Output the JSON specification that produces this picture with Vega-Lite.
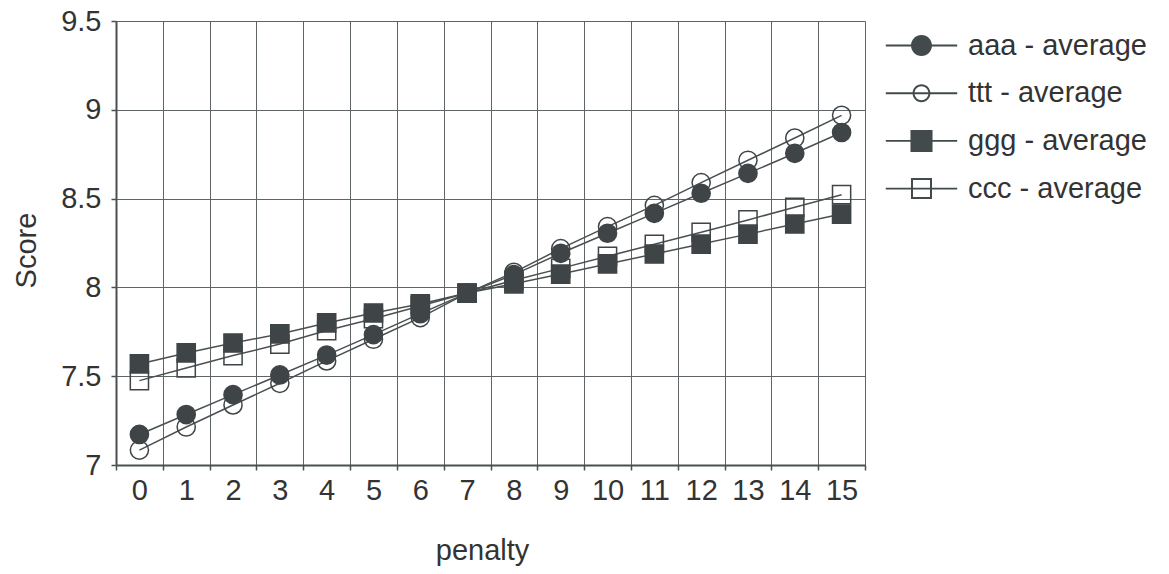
{
  "$schema": "https://vega.github.io/schema/vega-lite/v6.json",
  "width": 749,
  "height": 444,
  "autosize": {"type": "none"},
  "padding": {"left": 116, "top": 21, "right": 304, "bottom": 109},
  "config": {
    "font": "Liberation Sans",
    "view": {"stroke": null},
    "axis": {
      "labelFont": "Liberation Sans",
      "labelFontSize": 29,
      "labelColor": "#333333",
      "titleFont": "Liberation Sans",
      "titleFontSize": 29,
      "titleFontWeight": "normal",
      "titleColor": "#333333",
      "domainColor": "#4a5051",
      "domainWidth": 2,
      "tickColor": "#4a5051",
      "tickWidth": 1.5,
      "tickSize": 5,
      "gridColor": "#5f6566",
      "gridWidth": 1,
      "gridOpacity": 1
    },
    "legend": {
      "labelFont": "Liberation Sans",
      "labelFontSize": 29,
      "labelColor": "#333333",
      "labelLimit": 400,
      "padding": 0,
      "symbolSize": 441,
      "symbolStrokeWidth": 0,
      "symbolBaseFillColor": "#434a4b"
    }
  },
  "data": {
    "values": [
      {"series": "ttt - average", "penalty": 0, "score": 7.084},
      {"series": "ttt - average", "penalty": 1, "score": 7.214},
      {"series": "ttt - average", "penalty": 2, "score": 7.338},
      {"series": "ttt - average", "penalty": 3, "score": 7.46},
      {"series": "ttt - average", "penalty": 4, "score": 7.586},
      {"series": "ttt - average", "penalty": 5, "score": 7.708},
      {"series": "ttt - average", "penalty": 6, "score": 7.83},
      {"series": "ttt - average", "penalty": 7, "score": 7.968},
      {"series": "ttt - average", "penalty": 8, "score": 8.085},
      {"series": "ttt - average", "penalty": 9, "score": 8.218},
      {"series": "ttt - average", "penalty": 10, "score": 8.342},
      {"series": "ttt - average", "penalty": 11, "score": 8.462},
      {"series": "ttt - average", "penalty": 12, "score": 8.59},
      {"series": "ttt - average", "penalty": 13, "score": 8.716},
      {"series": "ttt - average", "penalty": 14, "score": 8.841},
      {"series": "ttt - average", "penalty": 15, "score": 8.969},
      {"series": "aaa - average", "penalty": 0, "score": 7.172},
      {"series": "aaa - average", "penalty": 1, "score": 7.284},
      {"series": "aaa - average", "penalty": 2, "score": 7.396},
      {"series": "aaa - average", "penalty": 3, "score": 7.507},
      {"series": "aaa - average", "penalty": 4, "score": 7.619},
      {"series": "aaa - average", "penalty": 5, "score": 7.734},
      {"series": "aaa - average", "penalty": 6, "score": 7.852},
      {"series": "aaa - average", "penalty": 7, "score": 7.968},
      {"series": "aaa - average", "penalty": 8, "score": 8.072},
      {"series": "aaa - average", "penalty": 9, "score": 8.192},
      {"series": "aaa - average", "penalty": 10, "score": 8.305},
      {"series": "aaa - average", "penalty": 11, "score": 8.417},
      {"series": "aaa - average", "penalty": 12, "score": 8.53},
      {"series": "aaa - average", "penalty": 13, "score": 8.642},
      {"series": "aaa - average", "penalty": 14, "score": 8.755},
      {"series": "aaa - average", "penalty": 15, "score": 8.872},
      {"series": "ccc - average", "penalty": 0, "score": 7.475},
      {"series": "ccc - average", "penalty": 1, "score": 7.546},
      {"series": "ccc - average", "penalty": 2, "score": 7.616},
      {"series": "ccc - average", "penalty": 3, "score": 7.681},
      {"series": "ccc - average", "penalty": 4, "score": 7.757},
      {"series": "ccc - average", "penalty": 5, "score": 7.824},
      {"series": "ccc - average", "penalty": 6, "score": 7.895},
      {"series": "ccc - average", "penalty": 7, "score": 7.968},
      {"series": "ccc - average", "penalty": 8, "score": 8.04},
      {"series": "ccc - average", "penalty": 9, "score": 8.107},
      {"series": "ccc - average", "penalty": 10, "score": 8.175},
      {"series": "ccc - average", "penalty": 11, "score": 8.243},
      {"series": "ccc - average", "penalty": 12, "score": 8.31},
      {"series": "ccc - average", "penalty": 13, "score": 8.38},
      {"series": "ccc - average", "penalty": 14, "score": 8.451},
      {"series": "ccc - average", "penalty": 15, "score": 8.522},
      {"series": "ggg - average", "penalty": 0, "score": 7.569},
      {"series": "ggg - average", "penalty": 1, "score": 7.631},
      {"series": "ggg - average", "penalty": 2, "score": 7.687},
      {"series": "ggg - average", "penalty": 3, "score": 7.738},
      {"series": "ggg - average", "penalty": 4, "score": 7.8},
      {"series": "ggg - average", "penalty": 5, "score": 7.856},
      {"series": "ggg - average", "penalty": 6, "score": 7.907},
      {"series": "ggg - average", "penalty": 7, "score": 7.968},
      {"series": "ggg - average", "penalty": 8, "score": 8.02},
      {"series": "ggg - average", "penalty": 9, "score": 8.075},
      {"series": "ggg - average", "penalty": 10, "score": 8.132},
      {"series": "ggg - average", "penalty": 11, "score": 8.188},
      {"series": "ggg - average", "penalty": 12, "score": 8.244},
      {"series": "ggg - average", "penalty": 13, "score": 8.3},
      {"series": "ggg - average", "penalty": 14, "score": 8.357},
      {"series": "ggg - average", "penalty": 15, "score": 8.413}
    ]
  },
  "encoding": {
    "x": {
      "field": "penalty",
      "type": "ordinal",
      "scale": {"type": "band", "paddingInner": 0, "paddingOuter": 0},
      "axis": {
        "tickBand": "extent",
        "labelAngle": 0,
        "grid": true,
        "labelPadding": 6,
        "title": "penalty",
        "titleX": 366,
        "titleY": 94,
        "titleBaseline": "alphabetic"
      }
    },
    "y": {
      "field": "score",
      "type": "quantitative",
      "scale": {"domain": [7, 9.5], "nice": false, "zero": false},
      "axis": {
        "values": [7, 7.5, 8, 8.5, 9, 9.5],
        "labelExpr": "'' + datum.value",
        "grid": true,
        "labelPadding": 10,
        "title": "Score",
        "titleX": -81,
        "titleY": 229,
        "titleAngle": 270,
        "titleBaseline": "alphabetic",
        "titleAlign": "center"
      }
    }
  },
  "layer": [
    {
      "mark": {"type": "line", "color": "#4a5051", "strokeWidth": 1.5},
      "encoding": {"detail": {"field": "series"}}
    },
    {
      "mark": {"type": "point", "stroke": "#3f4547", "strokeWidth": 1.5, "opacity": 1, "size": 330},
      "encoding": {
        "shape": {
          "field": "series",
          "type": "nominal",
          "scale": {
            "domain": ["ttt - average", "aaa - average", "ccc - average", "ggg - average"],
            "range": ["circle", "circle", "square", "square"]
          },
          "legend": null
        },
        "fill": {
          "field": "series",
          "type": "nominal",
          "scale": {
            "domain": ["ttt - average", "aaa - average", "ccc - average", "ggg - average"],
            "range": ["transparent", "#3f4547", "transparent", "#3f4547"]
          },
          "legend": null
        }
      }
    },
    {
      "transform": [{"filter": "datum.penalty < 0"}],
      "mark": {"type": "point", "filled": true, "color": "#434a4b", "opacity": 1, "size": 441},
      "encoding": {
        "shape": {
          "field": "series",
          "type": "nominal",
          "scale": {
            "domain": ["aaa - average", "ttt - average", "ggg - average", "ccc - average"],
            "range": [
              "M-3.4,-0.09H3.4V0.09H-3.4Z M-1,0A1,1,0,1,1,1,0A1,1,0,1,1,-1,0Z",
              "M-3.4,-0.09H3.4V0.09H-3.4Z M-0.85,0A0.85,0.85,0,1,1,0.85,0A0.85,0.85,0,1,1,-0.85,0Z M-0.66,0A0.66,0.66,0,1,0,0.66,0A0.66,0.66,0,1,0,-0.66,0Z",
              "M-3.4,-0.09H3.4V0.09H-3.4Z M-1.05,-1.05H1.05V1.05H-1.05Z",
              "M-3.4,-0.09H3.4V0.09H-3.4Z M-1,-1H1V1H-1Z M-0.81,-0.81V0.81H0.81V-0.81Z"
            ]
          },
          "legend": {
            "title": null,
            "orient": "none",
            "legendX": 791,
            "legendY": 10,
            "labelOffset": 32,
            "rowPadding": 17.7
          }
        }
      }
    }
  ],
  "resolve": {"scale": {"shape": "independent"}}
}
